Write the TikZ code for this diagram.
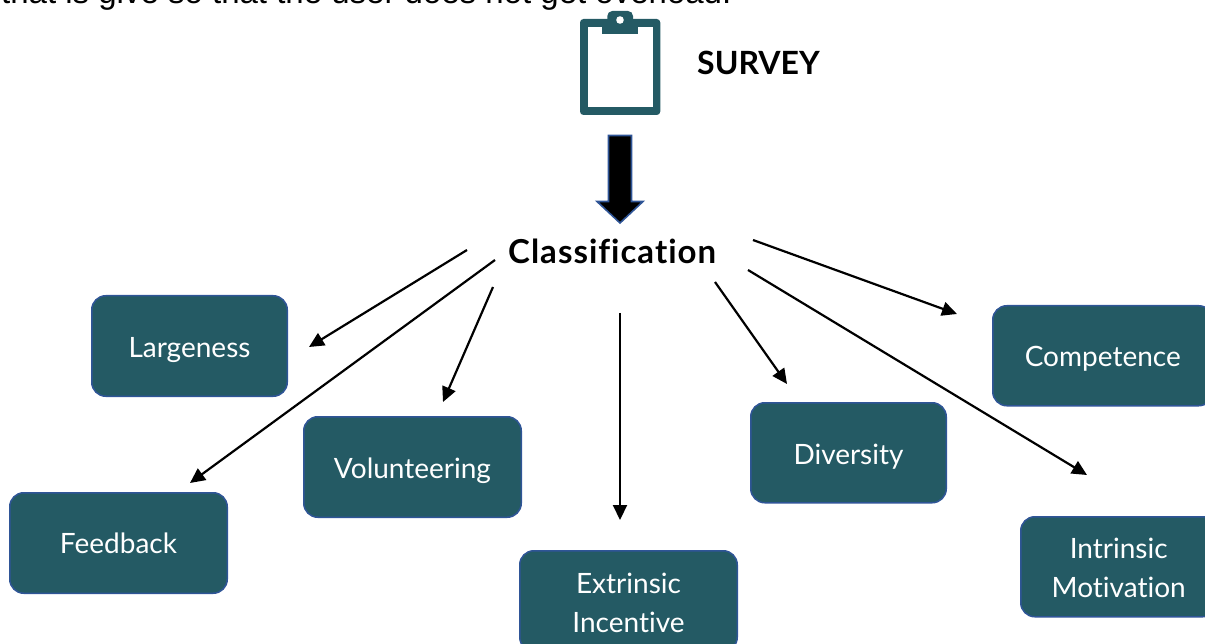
\documentclass[tikz,border=0pt]{standalone}
\usepackage{fontspec}
\setmainfont[Ligatures=NoCommon]{Lato}
\newfontfamily\topfont{Liberation Sans}
\usetikzlibrary{arrows.meta}
\definecolor{teal1}{HTML}{245A64}
\definecolor{edge1}{HTML}{2F5597}
\tikzset{
  box/.style={draw=edge1,fill=teal1,line width=1.5pt,rounded corners=14pt,minimum width=0pt,inner sep=0pt},
  boxtext/.style={text=white,align=center,inner sep=0pt,font=\fontsize{28}{39}\selectfont},
  conn/.style={-{Triangle[length=15pt,width=14pt]},line width=2.2pt,black},
  head/.style={anchor=base west,inner sep=0pt,font=\fontsize{32}{36}\selectfont\bfseries}
}
\newcommand{\boxat}[7]{\node[box,minimum width=#4pt,minimum height=#5pt,anchor=north west] (#1) at (#2,#3) {};
  \node[boxtext,yshift=-#6pt] (#1t) at (#1.center) {#7};}
\begin{document}
\begin{tikzpicture}[x=1pt,y=-1pt]
\useasboundingbox (0,0) rectangle (1205,644);
\begin{scope}
\clip (0,0) rectangle (1205,644);
\node[anchor=base west,inner sep=0pt,font=\topfont\fontsize{33}{36}\selectfont] (toptext) at (1,3.5) {that is give so that the user does not get overload.};
\boxat{larg}{91}{295}{195.5}{100.5}{4}{Largeness}
\boxat{vol}{303}{416}{217.5}{100.5}{3.5}{Volunteering}
\boxat{feed}{9}{492}{217.5}{100.5}{0.5}{Feedback}
\boxat{ext}{519}{550}{217.5}{100.5}{2}{Extrinsic\\Incentive}
\boxat{div}{750}{402}{195.5}{100}{3.5}{Diversity}
\boxat{comp}{992}{305}{220}{100}{3.5}{Competence}
\boxat{intr}{1020}{516}{196}{100}{1}{Intrinsic\\Motivation}
\end{scope}
% clipboard
\fill[teal1,rounded corners=3.5pt] (580,19) rectangle (660.3,115);
\fill[white] (587.7,26.7) rectangle (652.7,107.3);
\fill[teal1] (602,26) rectangle (638.3,34.3);
\fill[teal1,rounded corners=5pt] (607.3,30) -- (607.3,11) -- (633,11) -- (633,30) -- cycle;
\fill[white] (620,20) circle (3.8);
% block arrow
\draw[edge1,fill=black,line width=1.6pt,line join=miter] (608.5,135.5) -- (631.5,135.5) -- (631.5,201.5) -- (643,201.5) -- (620,223) -- (597,201.5) -- (608.5,201.5) -- cycle;
\node[head] (survey) at (697,75) {SURVEY};
\node[head] (cls) at (508,264) {\addfontfeature{LetterSpace=3}\fontsize{33}{36}\selectfont Classification};
% connectors
\coordinate (s1) at (467,250); \coordinate (e1) at (309,347);
\coordinate (s2) at (495,260); \coordinate (e2) at (190,483);
\coordinate (s3) at (493,287); \coordinate (e3) at (443,402);
\coordinate (s4) at (620,313); \coordinate (e4) at (620,520);
\coordinate (s5) at (715,282); \coordinate (e5) at (787,384);
\coordinate (s6) at (748,270); \coordinate (e6) at (1087,475);
\coordinate (s7) at (753,240); \coordinate (e7) at (957,314);
\foreach \i in {1,...,7}{\draw[conn] (s\i) -- (e\i);}
\end{tikzpicture}
\end{document}
